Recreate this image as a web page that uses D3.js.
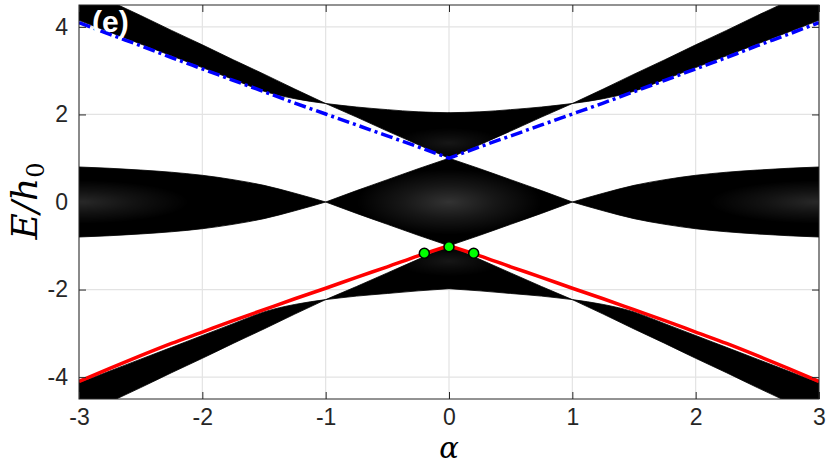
<!DOCTYPE html>
<html><head><meta charset="utf-8">
<script src="https://cdn.jsdelivr.net/npm/d3@7"></script>
<style>body{margin:0;background:#fff}svg{display:block}</style>
</head><body>
<svg id="c" width="830" height="465"></svg>
<script>
// ---- data ----
const alpha = [-3,-2.75,-2.5,-2.25,-2,-1.75,-1.5,-1.25,-1,-0.75,-0.5,-0.25,0,0.25,0.5,0.75,1,1.25,1.5,1.75,2,2.25,2.5,2.75,3];
const upperTop    = [4.93,4.59,4.26,3.92,3.59,3.25,2.92,2.58,2.25,2.17,2.11,2.06,2.04,2.06,2.11,2.17,2.25,2.58,2.92,3.25,3.59,3.92,4.26,4.59,4.93];
const upperBottom = [4.15,3.88,3.61,3.34,3.07,2.80,2.53,2.36,2.25,1.94,1.62,1.31,1.00,1.31,1.62,1.94,2.25,2.36,2.53,2.80,3.07,3.34,3.61,3.88,4.15];
const middleTop    = [0.80,0.77,0.73,0.68,0.61,0.51,0.38,0.20,0.00,0.26,0.51,0.76,1.00,0.76,0.51,0.26,0.00,0.20,0.38,0.51,0.61,0.68,0.73,0.77,0.80];
const middleBottom = [-0.80,-0.77,-0.73,-0.68,-0.61,-0.51,-0.38,-0.20,0.00,-0.26,-0.51,-0.76,-1.00,-0.76,-0.51,-0.26,0.00,-0.20,-0.38,-0.51,-0.61,-0.68,-0.73,-0.77,-0.80];
const lowerTop    = [-4.13,-3.86,-3.59,-3.32,-3.05,-2.78,-2.51,-2.34,-2.23,-1.93,-1.62,-1.31,-1.00,-1.31,-1.62,-1.93,-2.23,-2.34,-2.51,-2.78,-3.05,-3.32,-3.59,-3.86,-4.13];
const lowerBottom = [-4.91,-4.57,-4.24,-3.90,-3.57,-3.23,-2.90,-2.56,-2.23,-2.15,-2.09,-2.03,-1.98,-2.03,-2.09,-2.15,-2.23,-2.56,-2.90,-3.23,-3.57,-3.90,-4.24,-4.57,-4.91];
const edgeUpper = [4.10,3.83,3.57,3.30,3.04,2.78,2.52,2.26,2.01,1.76,1.51,1.26,1.00,1.26,1.51,1.76,2.01,2.26,2.52,2.78,3.04,3.30,3.57,3.83,4.10];
const edgeLower = [-4.10,-3.80,-3.51,-3.23,-2.97,-2.71,-2.46,-2.21,-1.97,-1.72,-1.48,-1.23,-1.00,-1.23,-1.48,-1.72,-1.97,-2.21,-2.46,-2.71,-2.97,-3.23,-3.51,-3.80,-4.10];
const cusps = [-1, 0, 1];            // alpha values where the band edges meet at a point
const markAlpha = [-0.2, 0, 0.2];
const markE = [-1.17, -1.02, -1.17];
const xTicks = [-3,-2,-1,0,1,2,3];
const yTicks = [-4,-2,0,2,4];
const panelLabel = "(e)";

// ---- layout ----
const L = 79, R = 819, T = 5, B = 399;
const svg = d3.select("#c");
const defs = svg.append("defs");
const x = d3.scaleLinear().domain([-3,3]).range([L,R]);
const y = d3.scaleLinear().domain([-4.5,4.5]).range([B,T]);

defs.append("clipPath").attr("id","clip")
  .append("rect").attr("x",L).attr("y",T).attr("width",R-L).attr("height",B-T);

// fine line texture seen inside the bands (many eigenvalue lines)
defs.append("pattern").attr("id","stripes").attr("patternUnits","userSpaceOnUse")
  .attr("width",8).attr("height",2)
  .append("rect").attr("x",0).attr("y",0.6).attr("width",8).attr("height",0.8).attr("fill","#fff");
const rg = defs.append("radialGradient").attr("id","fade");
rg.append("stop").attr("offset","0%").attr("stop-color","#fff").attr("stop-opacity",1);
rg.append("stop").attr("offset","50%").attr("stop-color","#fff").attr("stop-opacity",0.45);
rg.append("stop").attr("offset","100%").attr("stop-color","#fff").attr("stop-opacity",0);

// grid
const grid = svg.append("g").attr("stroke","#e3e3e3").attr("stroke-width",1.2);
xTicks.forEach(t => grid.append("line").attr("x1",x(t)).attr("x2",x(t)).attr("y1",T).attr("y2",B));
yTicks.forEach(t => grid.append("line").attr("y1",y(t)).attr("y2",y(t)).attr("x1",L).attr("x2",R));

const plot = svg.append("g").attr("clip-path","url(#clip)");
// split the index range at the cusps so that the smooth curve keeps them sharp
const breaks = [0, ...cusps.map(c => alpha.indexOf(c)), alpha.length-1];
const segments = d3.pairs(breaks).map(([a,b]) => d3.range(a, b+1));

let bandId = 0;
function band(top, bot, textures){
  const id = "band" + (bandId++);
  const area = d3.area().x(i=>x(alpha[i])).y0(i=>y(bot[i])).y1(i=>y(top[i])).curve(d3.curveMonotoneX);
  const cp = defs.append("clipPath").attr("id", id);
  segments.forEach(seg => {
    const d = area(seg);
    plot.append("path").attr("d",d).attr("fill","#000").attr("stroke","#000")
      .attr("stroke-width",0.8).attr("stroke-linejoin","round");
    cp.append("path").attr("d", d);
  });
  // texture zones: [alpha centre, E centre, alpha half-width, E half-height, strength]
  textures.forEach(([ca, ce, ha, he, s], k) => {
    const mid = id + "m" + k;
    defs.append("mask").attr("id", mid).attr("maskUnits","userSpaceOnUse")
      .attr("x",0).attr("y",0).attr("width",830).attr("height",465)
      .append("ellipse").attr("cx",x(ca)).attr("cy",y(ce))
      .attr("rx",x(ha)-x(0)).attr("ry",y(0)-y(he)).attr("fill","url(#fade)");
    plot.append("g").attr("clip-path",`url(#${id})`)
      .append("rect").attr("x",L).attr("y",T).attr("width",R-L).attr("height",B-T)
      .attr("fill","url(#stripes)").attr("opacity",s).attr("mask",`url(#${mid})`);
  });
}
band(upperTop, upperBottom, [[0, 1.35, 0.45, 0.35, 0.22]]);
band(middleTop, middleBottom, [[0, 0, 0.75, 0.75, 0.5], [-3, 0, 0.9, 0.5, 0.4], [3, 0, 0.9, 0.5, 0.4]]);
band(lowerTop, lowerBottom, [[0, -1.35, 0.45, 0.35, 0.22]]);

const lineGen = arr => d3.line().x(i=>x(alpha[i])).y(i=>y(arr[i])).curve(d3.curveMonotoneX);
function edgeLine(arr){
  const left = d3.range(0, alpha.indexOf(0)+1), right = d3.range(alpha.indexOf(0), alpha.length);
  return lineGen(arr)(left) + lineGen(arr)(right).replace(/^M/, "L");
}
plot.append("path").attr("d",edgeLine(edgeUpper)).attr("fill","none").attr("stroke","#0000ff")
  .attr("stroke-width",3.5).attr("stroke-dasharray","12,4,3,4");
plot.append("path").attr("d",edgeLine(edgeLower)).attr("fill","none").attr("stroke","#ff0000")
  .attr("stroke-width",3.5).attr("stroke-linejoin","round");
plot.selectAll("circle.m").data(markAlpha).join("circle").attr("class","m")
  .attr("cx",d=>x(d)).attr("cy",(d,i)=>y(markE[i])).attr("r",5)
  .attr("fill","#00ff00").attr("stroke","#000").attr("stroke-width",1.5);

// axes
const font = "'Liberation Sans', Arial, Helvetica, sans-serif";
function styleAxis(g){
  g.select(".domain").remove();
  g.selectAll(".tick line").attr("stroke","#262626").attr("stroke-width",1);
  g.selectAll(".tick text").attr("fill","#262626").style("font-family",font).style("font-size","23px");
}
const fmt = d => String(d);
svg.append("g").attr("transform",`translate(0,${B})`)
  .call(d3.axisBottom(x).tickValues(xTicks).tickSize(-7).tickPadding(10).tickFormat(fmt)).call(styleAxis);
svg.append("g").attr("transform",`translate(0,${T})`)
  .call(d3.axisTop(x).tickValues(xTicks).tickSize(-7).tickFormat("")).call(styleAxis);
svg.append("g").attr("transform",`translate(${L},0)`)
  .call(d3.axisLeft(y).tickValues(yTicks).tickSize(-7).tickPadding(11).tickFormat(fmt)).call(styleAxis);
svg.append("g").attr("transform",`translate(${R},0)`)
  .call(d3.axisRight(y).tickValues(yTicks).tickSize(-7).tickFormat("")).call(styleAxis);

svg.append("rect").attr("x",L).attr("y",T).attr("width",R-L).attr("height",B-T)
  .attr("fill","none").attr("stroke","#262626").attr("stroke-width",1);

// panel label
svg.append("text").attr("x",92).attr("y",32).attr("fill","#fff")
  .style("font-family",font).style("font-weight","bold").style("font-size","30px").text(panelLabel);

// axis labels
svg.append("text").attr("x",449).attr("y",458).attr("text-anchor","middle")
  .style("font-family","'DejaVu Serif', serif").style("font-style","italic").style("font-size","29px").text("α");
const yl = svg.append("text").attr("transform","translate(37,201) rotate(-90)").attr("text-anchor","middle")
  .style("font-family","'DejaVu Serif', 'Liberation Serif', serif").style("font-style","italic").style("font-size","36px");
yl.append("tspan").text("E/h");
yl.append("tspan").attr("dy",7).style("font-size","24px").style("font-style","normal").text("0");
</script>
</body></html>
